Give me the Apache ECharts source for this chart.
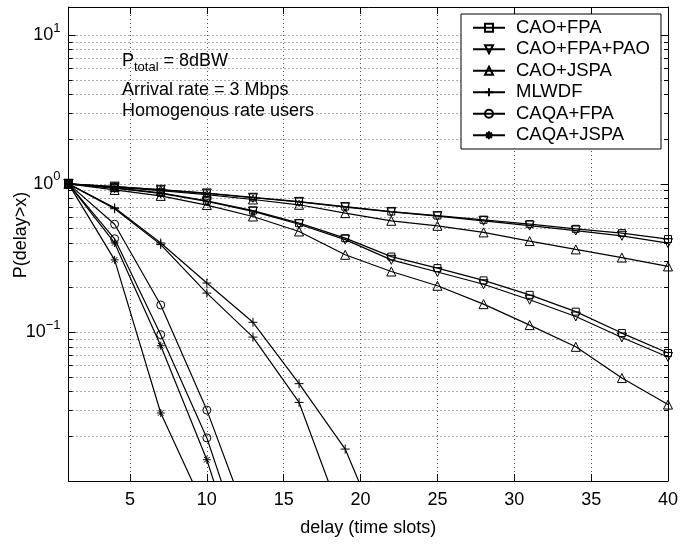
<!DOCTYPE html>
<html><head><meta charset="utf-8">
<script src="https://cdn.jsdelivr.net/npm/echarts@6/dist/echarts.min.js"></script>
<style>html,body{margin:0;padding:0;background:#fff}#c{width:682px;height:545px}</style>
</head><body><div id="c"></div>
<script>
// ---- data ----
const xFull = [1,4,7,10,13,16,19,22,25,28,31,34,37,40];
const caoFpaA     = [1,0.96,0.915,0.865,0.81,0.76,0.703,0.651,0.612,0.573,0.536,0.498,0.466,0.425];
const caoFpaPaoA  = [1,0.958,0.912,0.862,0.806,0.756,0.698,0.647,0.606,0.564,0.524,0.485,0.447,0.399];
const caoJspaA    = [1,0.95,0.90,0.845,0.785,0.723,0.635,0.564,0.522,0.471,0.412,0.362,0.319,0.278];
const caoFpaB     = [1,0.94,0.87,0.77,0.661,0.544,0.431,0.324,0.271,0.224,0.179,0.138,0.099,0.0727];
const caoFpaPaoB  = [1,0.935,0.864,0.763,0.652,0.535,0.421,0.308,0.255,0.211,0.166,0.128,0.0925,0.0684];
const caoJspaB    = [1,0.91,0.83,0.72,0.603,0.478,0.333,0.257,0.206,0.155,0.112,0.080,0.0493,0.0327];
const xMl         = [1,4,7,10,13,16,19,22];
const mlwdfA      = [1,0.69,0.40,0.215,0.117,0.0452,0.0164,0.003];
const xMl2        = [1,4,7,10,13,16,19];
const mlwdfB      = [1,0.68,0.39,0.184,0.093,0.0338,0.0049];
const xCq         = [1,4,7,10,13];
const caqaFpaA    = [1,0.535,0.153,0.030,0.0044];
const caqaFpaB    = [1,0.427,0.0966,0.0195,0.0023];
const caqaJspaA   = [1,0.40,0.0814,0.0139,0.0015];
const xCq2        = [1,4,7,10];
const caqaJspaB   = [1,0.308,0.0287,0.0061];
const xTicks = [5,10,15,20,25,30,35,40];
const yMajor = [0.01,0.1,1,10];
const yLabels = [0.1,1,10];
const yMinor = [];
[0.01,0.1,1,10].forEach(d => { for (let m = 2; m <= 9; m++) { const v = +(m*d).toPrecision(3); if (v <= 15.5) yMinor.push(v); } });

const FONT = '"Liberation Sans", Arial, Helvetica, sans-serif';
const pair = (xs, ys) => ys.map((y, i) => [xs[i], y]);

const SYM = {
  square: 'rect',
  tdown: 'path://M-1,-0.9L1,-0.9L0,0.9Z',
  tup: 'path://M-1,0.9L1,0.9L0,-0.9Z',
  plus: 'path://M0,-1L0,1M-1,0L1,0',
  circle: 'circle',
  star: 'path://M0,-1L0,1M-1,0L1,0M-0.7,-0.7L0.7,0.7M-0.7,0.7L0.7,-0.7'
};
function mk(name, xs, ys, sym, size) {
  return {
    type: 'line', name, data: pair(xs, ys), symbol: SYM[sym], symbolSize: size,
    showAllSymbol: true, clip: true, animation: false,
    lineStyle: { color: '#000', width: 1.2 },
    itemStyle: { color: 'rgba(0,0,0,0)', borderColor: '#000', borderWidth: 1 },
    emphasis: { disabled: true }
  };
}
const series = [
  mk('CAO+FPA', xFull, caoFpaA, 'square', 7),
  mk('CAO+FPA', xFull, caoFpaB, 'square', 7),
  mk('CAO+FPA+PAO', xFull, caoFpaPaoA, 'tdown', 9),
  mk('CAO+FPA+PAO', xFull, caoFpaPaoB, 'tdown', 9),
  mk('CAO+JSPA', xFull, caoJspaA, 'tup', 9),
  mk('CAO+JSPA', xFull, caoJspaB, 'tup', 9),
  mk('MLWDF', xMl, mlwdfA, 'plus', 9),
  mk('MLWDF', xMl2, mlwdfB, 'plus', 9),
  mk('CAQA+FPA', xCq, caqaFpaA, 'circle', 8),
  mk('CAQA+FPA', xCq, caqaFpaB, 'circle', 8),
  mk('CAQA+JSPA', xCq, caqaJspaA, 'star', 8),
  mk('CAQA+JSPA', xCq2, caqaJspaB, 'star', 8)
];

const grid = { left: 68.5, right: 14, top: 7, bottom: 64, containLabel: false, outerBoundsMode: 'none' };
const gridDot = { show: true, lineStyle: { color: '#555', width: 1, type: [1, 3] } };
const blackLine = { show: true, onZero: false, lineStyle: { color: '#000', width: 1 } };
const YMIN = 0.01, YMAX = 15.5;

const chart = echarts.init(document.getElementById('c'), null, { renderer: 'canvas' });
chart.setOption({
  animation: false,
  backgroundColor: '#fff',
  textStyle: { fontFamily: FONT },
  grid,
  legend: {
    orient: 'vertical', left: 461, top: 14,
    itemWidth: 32, itemHeight: 10, itemGap: 0,
    padding: [3, 11, 3, 11],
    backgroundColor: '#fff', borderColor: '#000', borderWidth: 1,
    selectedMode: false,
    data: ['CAO+FPA','CAO+FPA+PAO','CAO+JSPA','MLWDF','CAQA+FPA','CAQA+JSPA'],
    textStyle: { fontFamily: FONT, fontSize: 18.5, color: '#000', lineHeight: 21.5, padding: [0,0,0,6] }
  },
  xAxis: [
    { type: 'value', min: 1, max: 40, position: 'bottom',
      axisLine: blackLine,
      axisTick: { inside: true, length: 7, customValues: xTicks, lineStyle: { color: '#000' } },
      axisLabel: { customValues: xTicks, fontSize: 18, color: '#000', margin: 10, fontFamily: FONT },
      splitLine: gridDot,
      name: 'delay (time slots)', nameLocation: 'middle', nameGap: 38, nameMoveOverlap: false,
      nameTextStyle: { fontSize: 18, color: '#000', fontFamily: FONT } },
    { type: 'value', min: 1, max: 40, position: 'top',
      axisLine: blackLine,
      axisTick: { inside: true, length: 7, customValues: xTicks, lineStyle: { color: '#000' } },
      axisLabel: { show: false }, splitLine: { show: false } }
  ],
  yAxis: [
    { type: 'log', min: YMIN, max: YMAX, position: 'left',
      axisLine: blackLine,
      axisTick: { inside: true, length: 7, customValues: yMajor, lineStyle: { color: '#000' } },
      axisLabel: { customValues: yLabels, margin: 8, color: '#000',
        formatter: v => { const e = Math.round(Math.log10(v)); return '{b|10}{s|' + (e < 0 ? '\u2212' + (-e) : e) + '}'; },
        rich: { b: { fontSize: 18, fontFamily: FONT, color: '#000' },
                s: { fontSize: 13, fontFamily: FONT, color: '#000', padding: [0, 0, 14, 0] } } },
      splitLine: gridDot,
      name: 'P(delay>x)', nameLocation: 'middle', nameGap: 38, nameRotate: 90, nameMoveOverlap: false,
      nameTextStyle: { fontSize: 18, color: '#000', fontFamily: FONT, padding: [0, 0, 0, 18] } },
    { type: 'log', min: YMIN, max: YMAX, position: 'left', offset: 0,
      axisLine: { show: false },
      axisTick: { inside: true, length: 4, customValues: yMinor, lineStyle: { color: '#000' } },
      axisLabel: { show: false }, splitLine: gridDot },
    { type: 'log', min: YMIN, max: YMAX, position: 'right', offset: 0,
      axisLine: blackLine,
      axisTick: { inside: true, length: 7, customValues: yMajor, lineStyle: { color: '#000' } },
      axisLabel: { show: false }, splitLine: { show: false } },
    { type: 'log', min: YMIN, max: YMAX, position: 'right', offset: 0,
      axisLine: { show: false },
      axisTick: { inside: true, length: 4, customValues: yMinor, lineStyle: { color: '#000' } },
      axisLabel: { show: false }, splitLine: { show: false } }
  ],
  graphic: [
    { type: 'text', left: 122, top: 52, z: 10,
      style: { text: '{a|P}{sub|total}{a| = 8dBW}', fill: '#000',
        rich: { a: { fontSize: 18, fontFamily: FONT, fill: '#000' },
                sub: { fontSize: 13, fontFamily: FONT, fill: '#000', padding: [12, 0, 0, 0] } } } },
    { type: 'text', left: 122, top: 81, z: 10,
      style: { text: 'Arrival rate = 3 Mbps', font: '18px ' + FONT, fill: '#000' } },
    { type: 'text', left: 122, top: 102, z: 10,
      style: { text: 'Homogenous rate users', font: '18px ' + FONT, fill: '#000' } }
  ],
  series
});
</script></body></html>
